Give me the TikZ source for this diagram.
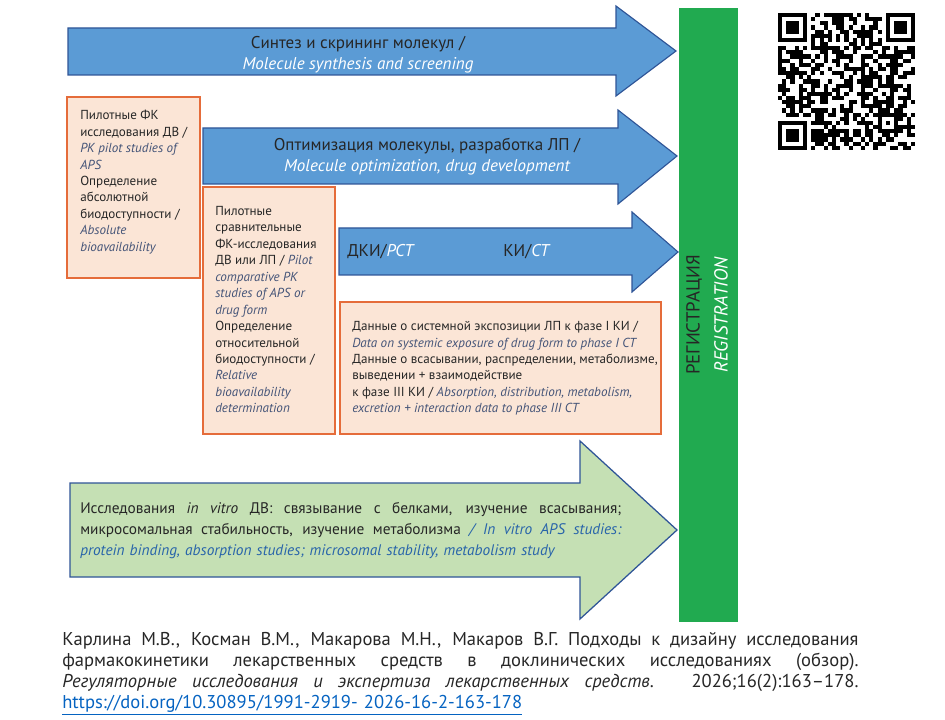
\documentclass[tikz,border=0pt]{standalone}
\usepackage{fontspec}
\setmainfont{PT Sans}
\usepackage{xcolor}
\usepackage{tikz}
\usetikzlibrary{positioning,calc}
\definecolor{pkblue}{RGB}{91,155,213}
\definecolor{pkline}{RGB}{47,85,151}
\definecolor{pkorange}{RGB}{229,108,58}
\definecolor{pkpeach}{RGB}{251,229,214}
\definecolor{pklime}{RGB}{197,224,180}
\definecolor{pkgreen}{RGB}{33,170,80}
\definecolor{pktext}{RGB}{38,38,38}
\definecolor{pkgrey}{RGB}{68,84,120}
\definecolor{pkitblue}{RGB}{40,100,170}
\definecolor{pklink}{RGB}{5,99,193}
\newcommand{\enbox}[1]{{\itshape\color{pkgrey}#1}}
\newcommand{\enwhite}[1]{{\itshape\color{white}#1}}
\newcommand{\envitro}[1]{{\itshape\color{pkitblue}#1}}
\newcommand{\fullline}[2]{\makebox[#1][s]{\spaceskip=0pt\xspaceskip=0pt\relax#2}}

\begin{document}
\begin{tikzpicture}[x=0.025cm, y=-0.025cm,
    stage/.style={draw=pkline, fill=pkblue, line width=0.8pt},
    invitro/.style={draw=pkline, fill=pklime, line width=0.9pt},
    study/.style={draw=pkorange, fill=pkpeach, line width=1.5pt},
    stagetext/.style={text=pktext, align=center, inner sep=0pt, font=\fontsize{12.1}{15}\selectfont},
    studytext/.style={text=pktext, align=left, anchor=north west, inner sep=0pt, font=\fontsize{9.3}{11.7}\selectfont}
]
    \useasboundingbox (0,0) rectangle (945,720);

    % registration bar
    \fill[pkgreen] (679,8) rectangle (738,622);
    \node[rotate=90, text=black!85, font=\fontsize{13.4}{15}\selectfont] (reg) at (694,315) {РЕГИСТРАЦИЯ};
    \node[rotate=90, text=white, font=\fontsize{13.4}{15}\selectfont\itshape] (regen) at (721,315) {REGISTRATION};

    % stage arrows
    \draw[stage] (68,28) -- (616,28) -- (616,6) -- (676,51) -- (616,96) -- (616,75) -- (68,75) -- cycle;
    \node[stagetext] (synth) at (358,55) {Синтез и скрининг молекул /\\\enwhite{Molecule synthesis and screening}};
    \draw[stage] (203,128) -- (618,128) -- (618,110) -- (677,156) -- (618,204) -- (618,184) -- (203,184) -- cycle;
    \node[stagetext] (optim) at (427,157) {Оптимизация молекулы, разработка ЛП /\\\enwhite{Molecule optimization, drug development}};
    \draw[stage] (339,228) -- (632,228) -- (632,212) -- (678,252) -- (632,292) -- (632,275) -- (339,275) -- cycle;
    \node[stagetext, anchor=west] (pct) at (347,252) {ДКИ/\enwhite{PCT}};
    \node[stagetext, anchor=west] (ct) at (503,252) {КИ/\enwhite{CT}};

    % study boxes
    \draw[study] (67,97) rectangle (200,278);
    \node[studytext] (pkpilot) at (80,110) {Пилотные ФК\\исследования ДВ /\\\enbox{PK pilot studies of}\\\enbox{APS}\\Определение\\абсолютной\\биодоступности /\\\enbox{Absolute}\\\enbox{bioavailability}};
    \draw[study] (203,187) rectangle (335,434);
    \node[studytext] (pkcomp) at (215,206) {Пилотные\\сравнительные\\ФК-исследования\\ДВ или ЛП / \enbox{Pilot}\\\enbox{comparative PK}\\\enbox{studies of APS or}\\\enbox{drug form}\\Определение\\относительной\\биодоступности /\\\enbox{Relative}\\\enbox{bioavailability}\\\enbox{determination}};
    \draw[study] (340,302) rectangle (661,434);
    \node[studytext] (expo) at (352,321) {Данные о системной экспозиции ЛП к фазе I КИ /\\\enbox{Data on systemic exposure of drug form to phase I CT}\\Данные о всасывании, распределении, метаболизме,\\выведении + взаимодействие\\к фазе III КИ / \enbox{Absorption, distribution, metabolism,}\\\enbox{excretion + interaction data to phase III CT}};

    % in vitro arrow
    \draw[invitro] (70,483) -- (580,483) -- (580,441) -- (677,530) -- (580,619) -- (580,577) -- (70,577) -- cycle;
    \node[anchor=north west, inner sep=0pt, text width=13.525cm, align=left, text=pktext, font=\fontsize{10.9}{14.9}\selectfont] (vitro) at (80,502) {%
        \fullline{13.525cm}{Исследования \textit{in vitro} ДВ: связывание с белками, изучение всасывания;}\\
        \fullline{13.525cm}{микросомальная стабильность, изучение метаболизма \envitro{/ In vitro APS studies:}}\\
        \envitro{protein binding, absorption studies; microsomal stability, metabolism study}};

    % qr code
    \def\qrm{4.15}
    \foreach \i in {0,...,32}{
        \foreach \j in {0,...,32}{
            \pgfmathtruncatemacro\dark{((\i<8 && \j<8) || (\i<8 && \j>24) || (\i>24 && \j<8) || (\i>23 && \i<29 && \j>23 && \j<29)) ? 0 : ((\i==6 || \j==6) ? mod(\i+\j+1,2) : (mod(mod(\i*\i,13)*7 + mod(\j*\j,11)*5 + mod(\i*\j,7)*3 + \i + 2*\j, 9) < 5 ? 1 : 0))}
            \ifnum\dark=1 \fill (778+\j*\qrm, 13+\i*\qrm) rectangle ++(\qrm,\qrm); \fi
        }
    }
    \foreach \fx/\fy in {0/0, 26/0, 0/26}{
        \fill (778+\fx*\qrm, 13+\fy*\qrm) rectangle ++(7*\qrm, 7*\qrm);
        \fill[white] (778+\fx*\qrm+\qrm, 13+\fy*\qrm+\qrm) rectangle ++(5*\qrm, 5*\qrm);
        \fill (778+\fx*\qrm+2*\qrm, 13+\fy*\qrm+2*\qrm) rectangle ++(3*\qrm, 3*\qrm);
    }
    \fill (778+24*\qrm, 13+24*\qrm) rectangle ++(5*\qrm, 5*\qrm);
    \fill[white] (778+25*\qrm, 13+25*\qrm) rectangle ++(3*\qrm, 3*\qrm);
    \fill (778+26*\qrm, 13+26*\qrm) rectangle ++(\qrm, \qrm);

    % citation
    \node[anchor=north west, inner sep=0pt, text width=19.9cm, align=left, text=pktext, font=\fontsize{13.2}{14.9}\selectfont] (cite) at (62,632) {%
        \fullline{19.9cm}{Карлина М.В., Косман В.М., Макарова М.Н., Макаров В.Г. Подходы к дизайну исследования}\\
        \fullline{19.9cm}{фармакокинетики лекарственных средств в доклинических исследованиях (обзор).}\\
        \fullline{19.9cm}{\textit{Регуляторные исследования и экспертиза лекарственных средств}. 2026;16(2):163–178.}\\
        {\color{pklink}\underline{https://doi.org/10.30895/1991-2919- 2026-16-2-163-178}}};
\end{tikzpicture}
\end{document}
